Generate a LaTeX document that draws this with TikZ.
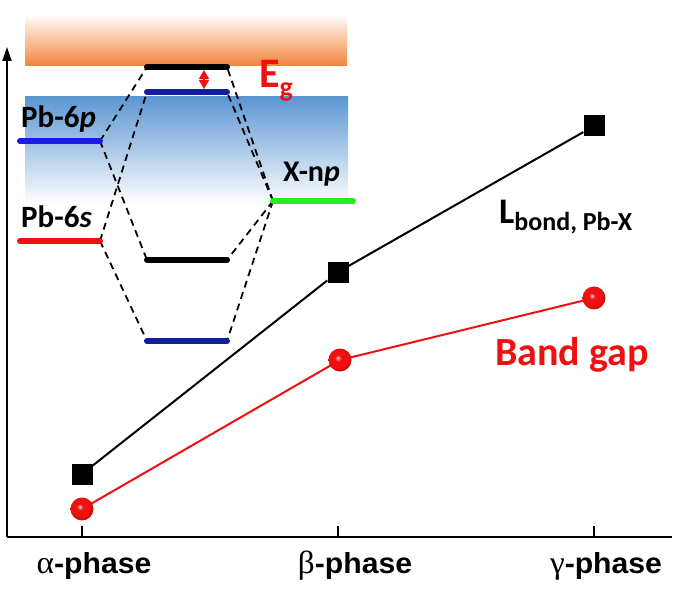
\documentclass[tikz,border=0pt]{standalone}
\usepackage{fontspec}
\setmainfont{Carlito}
\newfontfamily\arialf{Liberation Sans}
\newfontfamily\timesf{Liberation Serif}
\usetikzlibrary{arrows.meta}
\definecolor{orangeband}{HTML}{F2843A}
\definecolor{blueband}{HTML}{5C96D2}
\definecolor{lvlblue}{HTML}{1A1AF0}
\definecolor{lvlnavy}{HTML}{10209C}
\definecolor{lvlgreen}{HTML}{22EE22}
\definecolor{myred}{HTML}{F01010}
\pgfdeclareradialshading{redball}{\pgfpoint{-5bp}{5bp}}{%
  color(0bp)=(white); color(2.5bp)=(white!45!myred); color(7bp)=(myred);
  color(20bp)=(myred); color(25bp)=(myred!82!black); color(50bp)=(myred!82!black)}
\tikzset{
  level/.style={line width=6pt, line cap=round},
  mo/.style={line width=1.8pt, dash pattern=on 7pt off 5pt},
  sqr/.style={rectangle, fill=black, minimum size=21pt, inner sep=0pt},
  ballnode/.style={circle, shading=redball, minimum size=23pt, inner sep=0pt},
  phaselbl/.style={anchor=base, inner sep=0pt},
  lbl/.style={inner sep=0pt, anchor=base west, font=\bfseries},
}
\newcommand{\phasetxt}[1]{\scalebox{1.04}[1]{{\timesf\fontsize{32}{34}\selectfont #1}{\arialf\bfseries\fontsize{29}{32}\selectfont -phase}}}
\begin{document}
\begin{tikzpicture}[x=1pt,y=-1pt]
\useasboundingbox (0,0) rectangle (678,591);
% bands
\shade[top color=white, bottom color=orangeband] (25,14) rectangle (347,66);
\shade[top color=blueband, bottom color=white] (25,97) rectangle (348,204);
% level coordinates
\coordinate (p6L) at (20,141); \coordinate (p6R) at (100,141);
\coordinate (s6L) at (20,241); \coordinate (s6R) at (100,241);
\coordinate (xL) at (273,201); \coordinate (xR) at (353,201);
\coordinate (aL) at (147,67);  \coordinate (aR) at (227,67);
\coordinate (bL) at (147,92);  \coordinate (bR) at (227,92);
\coordinate (cL) at (147,260); \coordinate (cR) at (227,260);
\coordinate (dL) at (147,341); \coordinate (dR) at (227,341);
% dashed correlation lines
\draw[mo] (p6R) -- (aL);
\draw[mo] (p6R) -- (cL);
\draw[mo] (s6R) -- (bL);
\draw[mo] (s6R) -- (dL);
\draw[mo] (xL) -- (aR);
\draw[mo] (xL) -- (bR);
\draw[mo] (xL) -- (cR);
\draw[mo] (xL) -- (dR);
% levels
\draw[level, lvlblue] (p6L) -- (p6R);
\draw[level, myred] (s6L) -- (s6R);
\draw[level, lvlgreen] (xL) -- (xR);
\draw[level, black] (aL) -- (aR);
\draw[level, lvlnavy] (bL) -- (bR);
\draw[level, black] (cL) -- (cR);
\draw[level, lvlnavy] (dL) -- (dR);
% Eg arrow
\coordinate (egT) at (204,70); \coordinate (egB) at (204,89);
\draw[myred, line width=1.6pt, {Triangle[length=9pt,width=10pt]}-{Triangle[length=9pt,width=10pt]}] (egT) -- (egB);
% labels of inset
\node[lbl] (lp6) at (21,128) {\fontsize{31}{34}\selectfont Pb-6\textit{p}};
\node[lbl] (ls6) at (21,228) {\fontsize{31}{34}\selectfont Pb-6\textit{s}};
\node[lbl] (lxnp) at (283,182) {\fontsize{30}{34}\selectfont X-n\textit{p}};
\node[lbl, text=myred] (leg) at (259,88) {\fontsize{42}{46}\selectfont E\raisebox{-9pt}{\fontsize{28}{30}\selectfont g}};
% axes
\coordinate (orig) at (7,537);
\coordinate (ytop) at (7,47);
\coordinate (xend) at (672,537);
\draw[line width=2pt, -{Triangle[length=14pt,width=9pt]}] (orig) -- (ytop);
\draw[line width=2pt] (orig) -- (xend);
\foreach \t/\xx in {ta/82, tb/338, tc/594}{
  \coordinate (\t) at (\xx,537);
  \coordinate (\t u) at (\xx,526);
  \draw[line width=2pt] (\t) -- (\t u);
}
\node[phaselbl] (pa) at (94,573) {\phasetxt{α}};
\node[phaselbl] (pb) at (355,573) {\phasetxt{β}};
\node[phaselbl] (pc) at (606,573) {\phasetxt{γ}};
% data
\node[sqr] (sqA) at (82,474) {};
\node[sqr] (sqB) at (338,272) {};
\node[sqr] (sqC) at (594,126) {};
\draw[line width=2pt] (sqA) -- (sqB) -- (sqC);
\draw[myred, line width=2pt] (82,509) coordinate (bA) -- (340,360) coordinate (bB) -- (594,298) coordinate (bC);
\node[ballnode] (ballA) at (bA) {};
\node[ballnode] (ballB) at (bB) {};
\node[ballnode] (ballC) at (bC) {};
% series labels
\node[lbl] (lbond) at (499,223) {\fontsize{36}{40}\selectfont L\raisebox{-8pt}{\fontsize{26}{30}\selectfont bond, Pb-X}};
\node[lbl, text=myred] (lgap) at (495,365) {\fontsize{40}{44}\selectfont Band gap};
\end{tikzpicture}
\end{document}
